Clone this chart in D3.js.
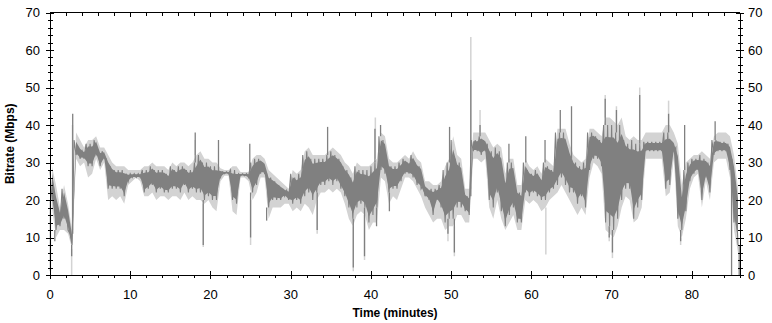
<!DOCTYPE html>
<html>
<head>
<meta charset="utf-8">
<script src="https://cdn.jsdelivr.net/npm/d3@7"></script>
<style>
  body { margin: 0; background: #fff; }
  text { font-family: "Liberation Sans", Arial, sans-serif; }
</style>
</head>
<body>
<div id="chart"></div>
<script>
// half-minute bins, bin start in minutes
var binStart = d3.range(0, 86, 0.5);

// dark trace (bitrate): usual low / high inside each bin
var darkLo = [
  20,12,13,15,12,8,32,31,31,29,
  29,32,29,31,23,23,23,23,21,25,
  26,26,26,22,23,24,22,23,22,22,
  23,23,22,24,22,23,22,22,20,21,
  20,20,26,27,27,20,19,26.5,26.5,26,
  22,24,27,27,18,20,20,20,21,20,
  19,20,19,21,22,20,22,24,24,25,
  24,25,23,21,18,15,18,19,18,14,
  16,18,28,27,22,23,23,25,27,27,
  26,24,23,21,20,16,20,18,14,15,
  15,18,18,17,16,33,33,32,33,20,
  18,22,17,13,16,18,14,14,22,21,
  22,21,20,20,22,23,24,26,24,22,
  22,19,21,18,28,31,31,29,14,13,
  12,15,20,23,23,15,18,20,33,33,
  33,33,33,23,24,33,15,12,17,25,
  27,28,20,26,22,32,33,33,33,28,
  14,8
];
var darkHi = [
  28,22,17,23,18,11,36,34,33,35,
  35,36,33,33,31,29,28,28,28,27,
  27,27,27,28,28,29,28,28,28,27,
  29,28,29,29,28,28,30,32,30,30,
  29,29,28,27.5,27.5,28,28,27,27,27,
  30,31,31,30,27,26,25,24,23,22.5,
  27,26,27,32,33,31,31,31,31,32,
  33,32,31,29,28,26,29,28,28,28,
  29,30,37,36,30,29,29,30,31,30,
  32,30,29,24,23,23,23,24,28,30,
  36,31,30,22,21,36,36,37,36,35,
  33,34,33,26,30,30,23,22,30,28,
  27,28,26,30,29,28,38,38,38,34,
  31,30,29,30,38,38,37,36,40,40,
  40,38,40,36,35,36,35,35,35.5,35.5,
  35.5,35.5,35.5,38,38,35.5,34,22,28,30,
  31,31,32,31,30,36,36,35.5,35.5,35,
  31,22
];

// light envelope behind the trace
var lightLo = [
  18,10,12,12,11,7,31,29,30,26,
  27,31,28,30,20,21,20,21,19,24,
  25,26,25,21,21,22,20,21,21,20,
  21,21,20,22,20,21,20,20,19,20,
  18,17,25,26.5,26.5,17,16,26,26,25,
  20,22,26,26,15,18,18,18,19,19,
  17,18,17,19,18,16,20,22,22,23,
  22,23,22,19,15,13,16,17,16,12,
  14,14,26,25,19,21,20,23,26,26,
  25,23,21,18,16,14,15,15,12,13,
  13,16,16,14,14,31,31,30,31,18,
  15,20,15,12,14,16,12,12,20,19,
  20,19,17,18,20,21,22,24,22,20,
  18,16,18,16,26,30,29,27,12,11,
  10,13,18,21,20,14,15,18,31,31,
  31,31,31,21,22,31,13,10,15,23,
  26,27,18,25,20,30,31,31,31,26,
  12,6
];
var lightHi = [
  29,24,18,24,19,12,38,36,34,36,
  36,37,34,34,32,30,29,29,29,28,
  28,28,28,29,29,30,29,29,29,28,
  30,29,30,30,29,30,32,33,31,31,
  30,30,28.5,28,28,29,29,27.5,27.5,27.5,
  31,32,32,31,28,27,26,25,24,23,
  28,27,28,33,34,32,32,32,32,33,
  34,33,32,30,29,27,30,29,29,29,
  30,31,38,37,31,30,30,31,32,31,
  33,31,30,25,25,24,24,25,29,31,
  37,32,31,23,23,38,38,38,38,36,
  34,35,34,27,31,31,24,24,31,29,
  28,29,27,31,30,29,39,39,39,35,
  32,31,30,31,39,39,38,37,42,42,
  41,40,42,37,36,37,36,36,38,38,
  38,38,38,40,40,38,35,24,30,31,
  32,32,33,32,31,37,38,38,38,37,
  32,23
];

// isolated spikes of the dark trace
var darkSpikeT = [0.05, 0.6, 2.7, 2.83, 18.1, 19.1, 21.0, 24.9, 25.0, 27.0,
  33.3, 34.6, 37.8, 39.2, 40.5, 40.7, 41.2, 42.3, 49.6, 49.8,
  50.4, 52.45, 53.6, 57.2, 59.3, 61.7, 63.6, 65.0, 69.2, 69.7,
  70.1, 70.6, 73.5, 77.1, 78.6, 79.1, 82.9, 84.95, 85.9];
var darkSpikeV = [1, 9, 5, 43, 38, 8, 36, 35, 10, 14.5,
  12, 39.5, 2, 5, 39, 13, 40, 17, 11, 39.5,
  6, 52, 40, 35, 37, 36, 44, 45, 47, 10,
  6, 44, 48, 43, 9, 40, 41, 0, 0];

// isolated spikes of the light envelope
var lightSpikeT = [2.7, 2.8, 18.1, 19.1, 25.0, 33.3, 37.8, 39.2, 40.55, 49.6,
  50.4, 52.45, 53.6, 61.8, 69.2, 69.7, 70.1, 70.6, 73.5, 77.1, 78.6];
var lightSpikeV = [0, 40, 36, 7.5, 8, 11, 1, 4, 42, 9,
  5, 63.5, 44, 5.5, 48, 9, 4.5, 45, 50, 46.5, 8];

var yTicks = [0, 10, 20, 30, 40, 50, 60, 70];
var xTicks = [0, 10, 20, 30, 40, 50, 60, 70, 80];

var width = 772, height = 323;
var plotLeft = 50, plotRight = 740, plotTop = 12.5, plotBottom = 275;

var svg = d3.select("#chart").append("svg")
  .attr("width", width)
  .attr("height", height);

var x = d3.scaleLinear().domain([0, 86]).range([plotLeft, plotRight]);
var y = d3.scaleLinear().domain([0, 70]).range([plotBottom, plotTop]);

var bins = binStart.map(function(t, i) {
  return { t: t, dLo: darkLo[i], dHi: darkHi[i], lLo: lightLo[i], lHi: lightHi[i] };
});

function binAt(t) {
  return bins[Math.min(bins.length - 1, Math.floor(t * 2))];
}

var plot = svg.append("g");

// light envelope
plot.append("path")
  .datum(bins)
  .attr("d", d3.area()
    .x(function(d) { return x(d.t + 0.25); })
    .y0(function(d) { return y(d.lLo); })
    .y1(function(d) { return y(d.lHi); }))
  .attr("fill", "#d3d3d3");

plot.selectAll(".lspike")
  .data(lightSpikeT)
  .enter().append("line")
  .attr("x1", function(t) { return x(t); })
  .attr("x2", function(t) { return x(t); })
  .attr("y1", function(t, i) {
    var b = binAt(t);
    return y(lightSpikeV[i] > b.lHi ? b.lHi : b.lLo);
  })
  .attr("y2", function(t, i) { return y(lightSpikeV[i]); })
  .attr("stroke", "#d3d3d3")
  .attr("stroke-width", 1.5);

// dark band: dense middle part of each bin
plot.append("path")
  .datum(bins)
  .attr("d", d3.area()
    .x(function(d) { return x(d.t + 0.25); })
    .y0(function(d) { return y(d.dLo + (d.dHi - d.dLo) * 0.12); })
    .y1(function(d) { return y(d.dHi - (d.dHi - d.dLo) * 0.12); }))
  .attr("fill", "#808080");

// dark trace on top: zigzag between low and high of each bin
var trace = [];
bins.forEach(function(d) {
  trace.push([d.t, d.dHi]);
  trace.push([d.t + 0.25, d.dLo]);
});

plot.append("path")
  .datum(trace)
  .attr("d", d3.line()
    .x(function(d) { return x(d[0]); })
    .y(function(d) { return y(d[1]); }))
  .attr("fill", "none")
  .attr("stroke", "#808080")
  .attr("stroke-width", 1.1);

plot.selectAll(".dspike")
  .data(darkSpikeT)
  .enter().append("line")
  .attr("x1", function(t) { return x(t); })
  .attr("x2", function(t) { return x(t); })
  .attr("y1", function(t, i) {
    var b = binAt(t);
    return y(darkSpikeV[i] > b.dHi ? b.dHi : b.dLo);
  })
  .attr("y2", function(t, i) { return y(darkSpikeV[i]); })
  .attr("stroke", "#808080")
  .attr("stroke-width", 1.3);

// axes
var minorX = d3.range(0, 87, 2);
var minorY = d3.range(0, 71, 2);

var axisG = svg.append("g")
  .attr("stroke", "#000")
  .attr("shape-rendering", "crispEdges");

axisG.append("line").attr("x1", plotLeft).attr("x2", plotRight).attr("y1", plotBottom).attr("y2", plotBottom);
axisG.append("line").attr("x1", plotLeft).attr("x2", plotRight).attr("y1", plotTop).attr("y2", plotTop);
axisG.append("line").attr("x1", plotLeft).attr("x2", plotLeft).attr("y1", plotTop).attr("y2", plotBottom);
axisG.append("line").attr("x1", plotRight).attr("x2", plotRight).attr("y1", plotTop).attr("y2", plotBottom);

// bottom and top ticks
axisG.selectAll(".bmin").data(minorX).enter().append("line")
  .attr("x1", function(d) { return Math.round(x(d)); })
  .attr("x2", function(d) { return Math.round(x(d)); })
  .attr("y1", plotBottom).attr("y2", plotBottom + 3);
axisG.selectAll(".bmaj").data(xTicks).enter().append("line")
  .attr("x1", function(d) { return Math.round(x(d)); })
  .attr("x2", function(d) { return Math.round(x(d)); })
  .attr("y1", plotBottom - 4).attr("y2", plotBottom + 4);
axisG.selectAll(".tmin").data(minorX).enter().append("line")
  .attr("x1", function(d) { return Math.round(x(d)); })
  .attr("x2", function(d) { return Math.round(x(d)); })
  .attr("y1", plotTop).attr("y2", plotTop + 3);
axisG.selectAll(".tmaj").data(xTicks).enter().append("line")
  .attr("x1", function(d) { return Math.round(x(d)); })
  .attr("x2", function(d) { return Math.round(x(d)); })
  .attr("y1", plotTop).attr("y2", plotTop + 4);

// left and right ticks
[plotLeft, plotRight].forEach(function(ax) {
  axisG.selectAll(null).data(minorY).enter().append("line")
    .attr("x1", ax - 2).attr("x2", ax + 3)
    .attr("y1", function(d) { return Math.round(y(d)); })
    .attr("y2", function(d) { return Math.round(y(d)); });
  axisG.selectAll(null).data(yTicks).enter().append("line")
    .attr("x1", ax - 4).attr("x2", ax + 4)
    .attr("y1", function(d) { return Math.round(y(d)); })
    .attr("y2", function(d) { return Math.round(y(d)); });
});

// tick labels
svg.selectAll(".xl").data(xTicks).enter().append("text")
  .attr("x", function(d) { return x(d); })
  .attr("y", 299)
  .attr("text-anchor", "middle")
  .attr("font-size", 13)
  .text(function(d) { return d; });

svg.selectAll(".yl").data(yTicks).enter().append("text")
  .attr("x", 40)
  .attr("y", function(d) { return y(d) + 4.5; })
  .attr("text-anchor", "end")
  .attr("font-size", 13)
  .text(function(d) { return d; });

svg.selectAll(".yr").data(yTicks).enter().append("text")
  .attr("x", 748)
  .attr("y", function(d) { return y(d) + 4.5; })
  .attr("text-anchor", "start")
  .attr("font-size", 13)
  .text(function(d) { return d; });

// axis titles
svg.append("text")
  .attr("x", (plotLeft + plotRight) / 2)
  .attr("y", 317)
  .attr("text-anchor", "middle")
  .attr("font-size", 12)
  .attr("font-weight", "bold")
  .text("Time (minutes)");

svg.append("text")
  .attr("transform", "translate(14," + ((plotTop + plotBottom) / 2) + ") rotate(-90)")
  .attr("text-anchor", "middle")
  .attr("font-size", 12)
  .attr("font-weight", "bold")
  .text("Bitrate (Mbps)");
</script>
</body>
</html>
